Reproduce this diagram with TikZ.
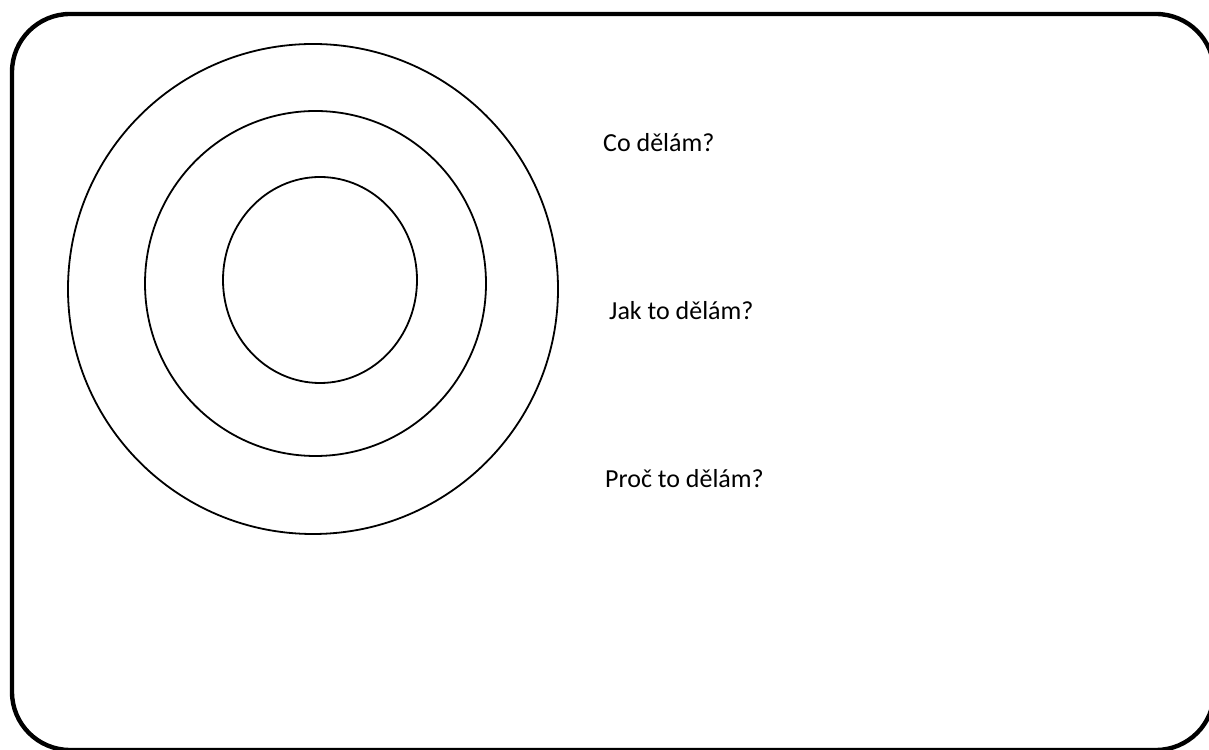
\documentclass[tikz,border=0pt]{standalone}
\usepackage{fontspec}
\setmainfont{Carlito}
\usetikzlibrary{positioning}

\begin{document}
\begin{tikzpicture}[x=1pt, y=1pt,
    ring/.style={draw=black, line width=1.8pt},
    frame/.style={draw=black, line width=4.4pt, rounded corners=58pt},
    question/.style={anchor=base west, inner sep=0pt, font=\fontsize{26}{30}\selectfont}]

    \useasboundingbox (0,0) rectangle (1209,749);

    % outer frame (runs past the right and bottom edge)
    \draw[frame] (12,735) rectangle (1214,-1);

    % three rings
    \draw[ring] (313,460) ellipse [x radius=245pt, y radius=245pt];
    \draw[ring] (315.5,465.5) ellipse [x radius=170.5pt, y radius=172.5pt];
    \draw[ring] (320,469) ellipse [x radius=97pt, y radius=103pt];

    % questions
    \node[question] (co) at (603,597) {Co dělám?};
    \node[question] (jak) at (609,429) {Jak to dělám?};
    \node[question] (proc) at (605,261) {Proč to dělám?};
\end{tikzpicture}
\end{document}
